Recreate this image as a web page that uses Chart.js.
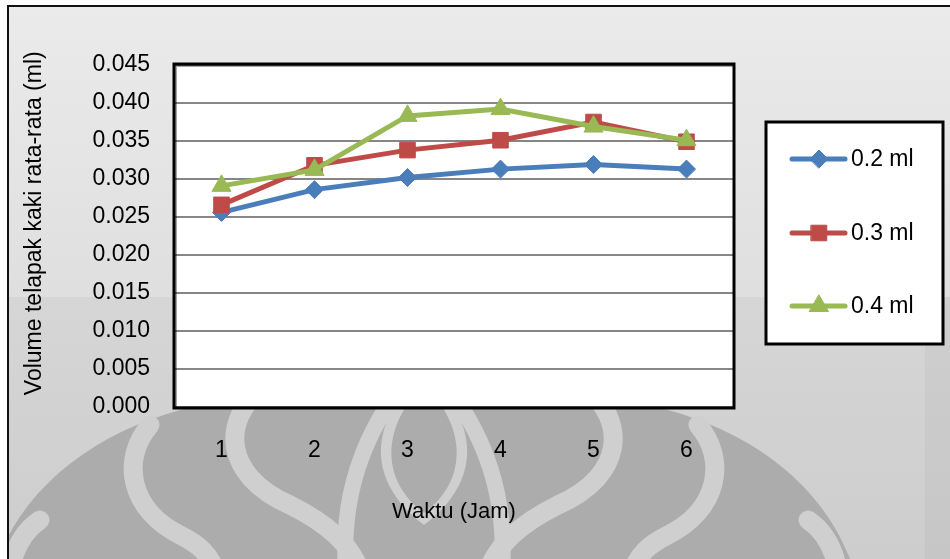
<!DOCTYPE html>
<html>
<head>
<meta charset="utf-8">
<script src="https://cdn.jsdelivr.net/npm/chart.js@4"></script>
<style>
	body { margin: 0; background: #fff; }
	#wrap { width: 950px; height: 559px; position: relative; }
</style>
</head>
<body>
<div id="wrap"><canvas id="volChart"></canvas></div>
<script>
// Data
const categories = ['1', '2', '3', '4', '5', '6'];
const vol02 = [0.0256, 0.0286, 0.0302, 0.0313, 0.0319, 0.0313];
const vol03 = [0.0266, 0.0318, 0.0338, 0.0351, 0.0375, 0.0349];
const vol04 = [0.0291, 0.0312, 0.0383, 0.0392, 0.0369, 0.0351];
const seriesLabels = ['0.2 ml', '0.3 ml', '0.4 ml'];

const FONT = "'Liberation Sans', Arial, sans-serif";

// watermark: rough flame-shaped logo behind the chart, mirrored about CX
const CX = 424;
function sPath(ctx, pts, mirror) {
	const m = (x) => (mirror ? 2 * CX - x : x);
	ctx.beginPath();
	ctx.moveTo(m(pts[0]), pts[1]);
	for (let i = 2; i < pts.length; i += 6) {
		ctx.bezierCurveTo(m(pts[i]), pts[i + 1], m(pts[i + 2]), pts[i + 3], m(pts[i + 4]), pts[i + 5]);
	}
}

function drawWatermark(ctx) {
	const dark = '#acacac';
	const light = '#cfcfcf';
	ctx.fillStyle = dark;
	ctx.beginPath();
	ctx.moveTo(-6, 570);
	ctx.bezierCurveTo(20, 490, 90, 435, 180, 410);
	ctx.bezierCurveTo(270, 388, 370, 372, CX, 315);
	ctx.bezierCurveTo(2 * CX - 370, 372, 2 * CX - 270, 388, 2 * CX - 180, 410);
	ctx.bezierCurveTo(2 * CX - 90, 435, 2 * CX - 20, 490, 2 * CX + 6, 570);
	ctx.closePath();
	ctx.fill();

	ctx.strokeStyle = light;
	ctx.lineCap = 'round';
	ctx.lineWidth = 19;
	const bands = [
		[262, 388, 222, 420, 222, 475, 290, 505, 330, 525, 350, 545, 360, 570],
		[150, 425, 120, 460, 130, 510, 180, 535, 200, 545, 210, 555, 215, 570],
		[40, 520, 25, 530, 15, 545, 10, 570, 10, 570, 10, 570, 10, 570],
	];
	bands.forEach((b) => {
		sPath(ctx, b, false);
		ctx.stroke();
		sPath(ctx, b, true);
		ctx.stroke();
	});
	// central pointed arch and inner flame
	ctx.lineWidth = 16;
	ctx.beginPath();
	ctx.moveTo(CX - 78, 570);
	ctx.bezierCurveTo(CX - 85, 470, CX - 40, 400, CX, 362);
	ctx.bezierCurveTo(CX + 40, 400, CX + 85, 470, CX + 78, 570);
	ctx.stroke();
	ctx.fillStyle = light;
	ctx.beginPath();
	ctx.moveTo(CX, 372);
	ctx.bezierCurveTo(CX + 55, 420, CX + 60, 480, CX, 525);
	ctx.bezierCurveTo(CX - 60, 480, CX - 55, 420, CX, 372);
	ctx.fill();
	ctx.fillStyle = dark;
	ctx.beginPath();
	ctx.moveTo(CX, 385);
	ctx.bezierCurveTo(CX + 42, 425, CX + 45, 480, CX, 513);
	ctx.bezierCurveTo(CX - 45, 480, CX - 42, 425, CX, 385);
	ctx.fill();
}

// page background, watermark, outer frame and white plot area
const backdrop = {
	id: 'backdrop',
	beforeDraw(chart) {
		const { ctx, width, height, chartArea: a } = chart;
		ctx.save();
		let g = ctx.createLinearGradient(0, 0, 0, 297);
		g.addColorStop(0, '#ebebeb');
		g.addColorStop(1, '#dfdfdf');
		ctx.fillStyle = g;
		ctx.fillRect(0, 0, width, 297);
		g = ctx.createLinearGradient(0, 297, 0, height);
		g.addColorStop(0, '#d6d6d6');
		g.addColorStop(1, '#cdcdcd');
		ctx.fillStyle = g;
		ctx.fillRect(0, 297, width, height - 297);
		ctx.fillStyle = 'rgba(0,0,0,0.03)';
		ctx.fillRect(925, 297, width - 925, height - 297);

		drawWatermark(ctx);

		ctx.fillStyle = '#fff';
		ctx.fillRect(0, 0, width, 5);
		ctx.fillRect(0, 0, 7, height);
		ctx.strokeStyle = '#111';
		ctx.lineWidth = 2;
		ctx.beginPath();
		ctx.moveTo(8, height);
		ctx.lineTo(8, 6);
		ctx.lineTo(width, 6);
		ctx.stroke();

		ctx.fillStyle = '#fff';
		ctx.fillRect(a.left, a.top, a.right - a.left, a.bottom - a.top);
		ctx.restore();
	},
	beforeDatasetsDraw(chart) {
		const { ctx, chartArea: a } = chart;
		ctx.save();
		ctx.strokeStyle = 'rgba(0,0,0,0.35)';
		ctx.lineWidth = 2;
		ctx.strokeRect(a.left + 1, a.top + 1, a.right - a.left, a.bottom - a.top);
		ctx.strokeStyle = '#000';
		ctx.lineWidth = 3;
		ctx.strokeRect(a.left - 1, a.top - 1, a.right - a.left + 2, a.bottom - a.top + 2);
		ctx.restore();
	},
};

// boxed legend on the right
const boxLegend = {
	id: 'boxLegend',
	afterDraw(chart) {
		const { ctx } = chart;
		const box = { x: 766, y: 122, w: 177, h: 222 };
		ctx.save();
		ctx.fillStyle = '#fff';
		ctx.fillRect(box.x, box.y, box.w, box.h);
		ctx.strokeStyle = '#000';
		ctx.lineWidth = 3;
		ctx.strokeRect(box.x, box.y, box.w, box.h);
		const rows = [159, 233, 306];
		chart.data.datasets.forEach((ds, i) => {
			const y = rows[i];
			ctx.strokeStyle = ds.borderColor;
			ctx.lineWidth = 5;
			ctx.lineCap = 'round';
			ctx.beginPath();
			ctx.moveTo(792, y);
			ctx.lineTo(845, y);
			ctx.stroke();
			ctx.fillStyle = ds.borderColor;
			ctx.lineWidth = 1;
			Chart.helpers.drawPoint(ctx, {
				pointStyle: ds.pointStyle,
				radius: ds.pointRadius,
				rotation: 0,
				borderWidth: 1,
			}, 819, y);
			ctx.fillStyle = '#000';
			ctx.font = '23px ' + FONT;
			ctx.textBaseline = 'middle';
			ctx.textAlign = 'left';
			ctx.fillText(seriesLabels[i], 851, y + 1);
		});
		ctx.restore();
	},
};

function lineSet(label, data, color, style, radius, order) {
	return {
		label: label,
		data: data,
		borderColor: color,
		backgroundColor: color,
		borderWidth: 5,
		pointStyle: style,
		pointRadius: radius,
		pointBackgroundColor: color,
		pointBorderColor: color,
		pointBorderWidth: 1,
		tension: 0,
		order: order,
	};
}

const ctx = document.getElementById('volChart').getContext('2d');
new Chart(ctx, {
	type: 'line',
	data: {
		labels: categories,
		datasets: [
			lineSet(seriesLabels[0], vol02, '#4a7ebb', 'rectRot', 9, 3),
			lineSet(seriesLabels[1], vol03, '#be4b48', 'rect', 11, 2),
			lineSet(seriesLabels[2], vol04, '#98b954', 'triangle', 11, 1),
		],
	},
	options: {
		responsive: true,
		maintainAspectRatio: false,
		animation: false,
		layout: { padding: { top: 65, right: 217, left: 0, bottom: 0 } },
		plugins: {
			legend: { display: false },
			tooltip: { enabled: false },
		},
		scales: {
			x: {
				offset: true,
				grid: { display: false, drawTicks: false },
				border: { display: false },
				ticks: { color: '#000', padding: 30, font: { family: FONT, size: 23 } },
				title: {
					display: true,
					text: 'Waktu (Jam)',
					color: '#000',
					font: { family: FONT, size: 22 },
					padding: { top: 0, bottom: 34 },
				},
				afterFit(scale) { scale.height = 152; },
			},
			y: {
				min: 0,
				max: 0.045,
				ticks: {
					stepSize: 0.005,
					color: '#000',
					padding: 25,
					font: { family: FONT, size: 23 },
					callback: (v) => v.toFixed(3),
				},
				grid: { color: '#868686', lineWidth: 2, drawTicks: false },
				border: { display: false },
				title: {
					display: true,
					// leading spaces nudge the rotated title up, as in the original
					text: '    Volume telapak kaki rata-rata (ml)',
					color: '#000',
					font: { family: FONT, size: 23 },
					padding: { top: 21, bottom: 0 },
				},
				afterFit(scale) { scale.width = 175; },
			},
		},
	},
	plugins: [backdrop, boxLegend],
});
</script>
</body>
</html>
